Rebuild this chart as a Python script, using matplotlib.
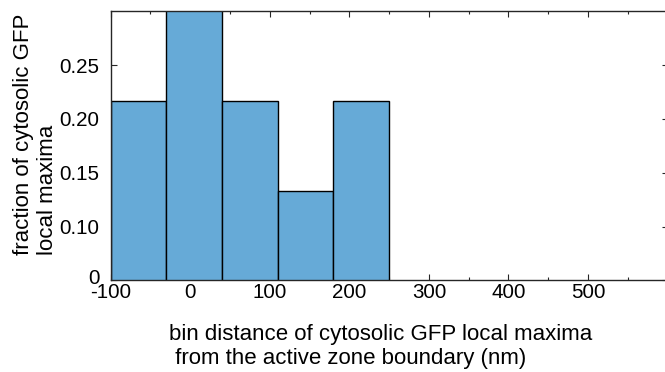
import numpy as np
import matplotlib
matplotlib.use('Agg')
import matplotlib.pyplot as plt
from matplotlib.ticker import MultipleLocator
from matplotlib.transforms import ScaledTranslation

plt.rcParams['font.family'] = ['Liberation Sans', 'DejaVu Sans']
plt.rcParams['axes.unicode_minus'] = False

# histogram data
bin_edges = [-100, -30, 40, 110, 180, 250]
fractions = [0.217, 0.317, 0.217, 0.133, 0.217]
ytick_vals = [0.05, 0.10, 0.15, 0.20, 0.25]
ytick_labels = ['0', '0.10', '0.15', '0.20', '0.25']
xtick_vals = [-100, 0, 100, 200, 300, 400, 500]

bar_color = '#66AAD7'
axis_color = '#262626'

fig = plt.figure(figsize=(6.65, 3.72), dpi=100)
ax = fig.add_axes([0.1665, 0.2465, 0.8373, 0.7231])

widths = np.diff(bin_edges)
ax.bar(bin_edges[:-1], fractions, width=widths, align='edge',
       color=bar_color, edgecolor='black', linewidth=1.0, zorder=2)

ax.set_xlim(-100, 600)
ax.set_ylim(0.05, 0.30)
ax.set_xticks(xtick_vals)
ax.xaxis.set_minor_locator(MultipleLocator(50))
ax.set_yticks(ytick_vals)
ax.set_yticklabels(ytick_labels)

ax.tick_params(which='both', direction='in', top=True, right=True,
               color=axis_color, labelsize=14.8, width=0.8)
ax.tick_params(which='major', length=4)
ax.tick_params(which='minor', length=2.5)
ax.tick_params(axis='y', pad=8)
ax.tick_params(axis='x', pad=2)
for s in ax.spines.values():
    s.set_color(axis_color)
    s.set_linewidth(1.0)
    s.set_zorder(3)

# the bottom "0" label sits a little above its tick in the original
lbl0 = ax.get_yticklabels()[0]
lbl0.set_transform(lbl0.get_transform() + ScaledTranslation(0, 3 / 72, fig.dpi_scale_trans))

# axis titles placed as in the original (left aligned lines)
fig.text(0.254, 0.129, 'bin distance of cytosolic GFP local maxima\n from the active zone boundary (nm)',
         ha='left', va='top', multialignment='left', fontsize=16, linespacing=1.2)
fig.text(0.019, 0.3145, 'fraction of cytosolic GFP\nlocal maxima', rotation=90,
         ha='left', va='bottom', multialignment='left', fontsize=16, linespacing=1.2)

fig.savefig('out.png', dpi=100)
